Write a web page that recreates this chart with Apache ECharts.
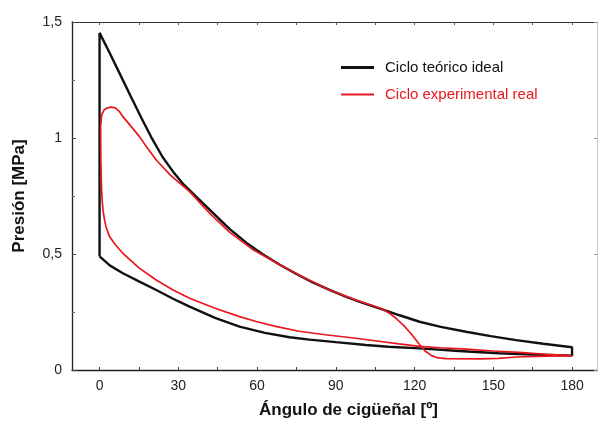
<!DOCTYPE html>
<html>
<head>
<meta charset="utf-8">
<script src="https://cdn.jsdelivr.net/npm/echarts@6/dist/echarts.min.js"></script>
<style>
  html, body { margin: 0; padding: 0; background: #fff; }
  #chart { width: 602px; height: 427px; }
</style>
</head>
<body>
<div id="chart"></div>
<script>
// ciclo teórico (recorrido en orden, bucle cerrado)
const idealAngle = [0, 0, 4, 8, 12, 16, 20, 24, 28, 32, 36.8, 42, 49.5, 56, 62, 68.5, 75, 81, 87.6, 94, 100,
  106.6, 114, 121.9, 130, 139.6, 149, 158.7, 169, 180,
  180, 165, 152, 137, 121.9, 110, 101.5, 90, 80, 72.4, 63, 53.3, 44, 34.3, 28, 21.6, 15, 8.9, 4, 0];
const idealPressure = [0.49, 1.453, 1.363, 1.27, 1.177, 1.085, 0.997, 0.918, 0.855, 0.8, 0.747, 0.69, 0.608, 0.548, 0.5, 0.455, 0.414, 0.379, 0.345, 0.315, 0.29,
  0.266, 0.237, 0.208, 0.186, 0.165, 0.146, 0.129, 0.113, 0.098,
  0.062, 0.067, 0.072, 0.082, 0.093, 0.1, 0.108, 0.12, 0.131, 0.141, 0.16, 0.187, 0.225, 0.273, 0.307, 0.345, 0.382, 0.417, 0.45, 0.49];

// ciclo experimental
const realAngle = [180, 170, 160, 150, 139.6, 130, 121.9, 114, 105, 96, 86, 76, 67, 60, 53.3, 44, 34.3, 28, 21.6, 15, 8.9,
  6, 3.8, 2.5, 1.9, 1.3, 1.0, 0.7, 0.5, 0.4,
  0.8, 1.8, 3, 4.4, 6, 7.5, 8.9, 12, 15.2, 18, 21.6, 27, 34.3, 42, 49.5, 58, 68.5, 78, 87.6, 98, 104,
  107.9, 110.4, 113, 116, 119, 121.5, 124, 126.5, 129, 132, 145, 152, 158.7, 170, 180];
const realPressure = [0.062, 0.068, 0.076, 0.082, 0.09, 0.096, 0.102, 0.113, 0.126, 0.139, 0.152, 0.167, 0.188, 0.208, 0.23, 0.266, 0.309, 0.345, 0.388, 0.44, 0.503,
  0.54, 0.575, 0.615, 0.647, 0.69, 0.73, 0.8, 0.9, 1.05,
  1.1, 1.122, 1.13, 1.133, 1.13, 1.115, 1.092, 1.05, 1.006, 0.96, 0.905, 0.84, 0.769, 0.675, 0.594, 0.522, 0.455, 0.398, 0.345, 0.3, 0.278,
  0.262, 0.245, 0.222, 0.19, 0.152, 0.115, 0.082, 0.062, 0.052, 0.049, 0.048, 0.05, 0.056, 0.06, 0.062];

const xTicks = [0, 30, 60, 90, 120, 150, 180];
const xMinorTicks = [0, 15, 30, 45, 60, 75, 90, 105, 120, 135, 150, 165, 180];

const seriesNames = ['Ciclo teórico ideal', 'Ciclo experimental real'];

const font = '"Liberation Sans", Arial, sans-serif';

const chart = echarts.init(document.getElementById('chart'), null, { renderer: 'canvas' });

const pairs = (xs, ys) => xs.map((x, i) => [x, ys[i]]);

chart.setOption({
  backgroundColor: '#fff',
  animation: false,
  grid: { left: 72, right: 5, top: 22, bottom: 57, containLabel: false },
  legend: {
    left: 341,
    top: 60,
    orient: 'vertical',
    padding: 0,
    itemWidth: 33,
    itemHeight: 15,
    itemGap: 12,
    textStyle: { fontFamily: font, fontSize: 15, padding: [0, 0, 0, 6] },
    data: [
      { name: seriesNames[0], icon: 'path://M0,0L33,0L33,3L0,3Z', textStyle: { color: '#111' } },
      { name: seriesNames[1], icon: 'path://M0,0L33,0L33,2L0,2Z', textStyle: { color: '#e8161d' } }
    ]
  },
  xAxis: [
    {
      type: 'value',
      min: -10.5,
      max: 189.5,
      name: 'Ángulo de cigüeñal [º]',
      nameLocation: 'middle',
      nameGap: 32,
      nameTextStyle: { fontFamily: font, fontSize: 17, fontWeight: 'bold', color: '#111', padding: [0, 0, 0, 28] },
      axisLine: { show: true, onZero: false, lineStyle: { color: '#222', width: 1.3 } },
      axisTick: { show: true, inside: true, length: 3, customValues: xMinorTicks, lineStyle: { color: '#444' } },
      axisLabel: { customValues: xTicks, margin: 9, fontFamily: font, fontSize: 14, color: '#222' },
      splitLine: { show: false }
    },
    {
      type: 'value',
      position: 'top',
      min: -10.5,
      max: 189.5,
      axisLine: { show: true, onZero: false, lineStyle: { color: '#333', width: 1 } },
      axisTick: { show: true, inside: true, length: 3, customValues: xMinorTicks, lineStyle: { color: '#555' } },
      axisLabel: { show: false },
      splitLine: { show: false }
    }
  ],
  yAxis: [
    {
      type: 'value',
      min: 0,
      max: 1.5,
      interval: 0.5,
      name: 'Presión [MPa]',
      nameLocation: 'middle',
      nameGap: 44,
      nameTextStyle: { fontFamily: font, fontSize: 17, fontWeight: 'bold', color: '#111' },
      axisLine: { show: true, onZero: false, lineStyle: { color: '#222', width: 1.3 } },
      axisTick: { show: true, inside: true, length: 4, lineStyle: { color: '#444' } },
      minorTick: { show: true, splitNumber: 2, length: 3, lineStyle: { color: '#666' } },
      axisLabel: {
        margin: 10,
        fontFamily: font,
        fontSize: 14,
        color: '#222',
        formatter: v => String(v).replace('.', ',')
      },
      splitLine: { show: false }
    },
    {
      type: 'value',
      position: 'right',
      min: 0,
      max: 1.5,
      interval: 0.5,
      axisLine: { show: true, onZero: false, lineStyle: { color: '#c8c8c8', width: 1 } },
      axisTick: { show: true, inside: true, length: 3, lineStyle: { color: '#999' } },
      axisLabel: { show: false },
      splitLine: { show: false }
    }
  ],
  series: [
    {
      name: seriesNames[0],
      type: 'line',
      xAxisIndex: 0,
      yAxisIndex: 0,
      symbol: 'none',
      smooth: false,
      lineStyle: { color: '#111', width: 2.4 },
      itemStyle: { color: '#111' },
      data: pairs(idealAngle, idealPressure)
    },
    {
      name: seriesNames[1],
      type: 'line',
      xAxisIndex: 0,
      yAxisIndex: 0,
      symbol: 'none',
      smooth: false,
      lineStyle: { color: '#e8161d', width: 1.7 },
      itemStyle: { color: '#e8161d' },
      data: pairs(realAngle, realPressure)
    }
  ]
});
</script>
</body>
</html>
